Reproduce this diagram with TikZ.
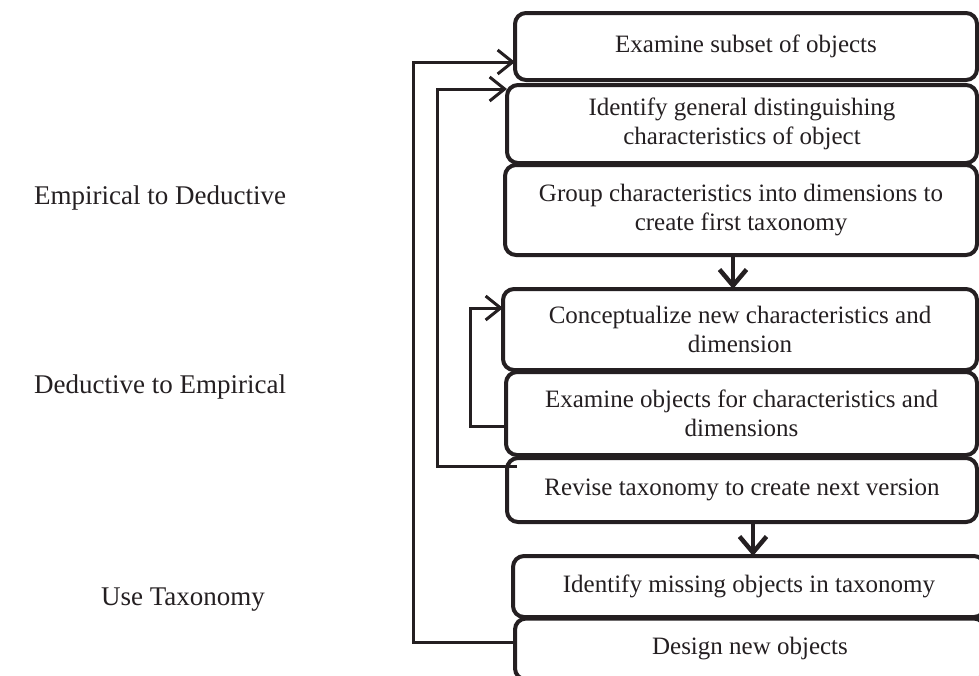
\documentclass[tikz,border=0pt]{standalone}
\usepackage{fontspec}
\setmainfont{Liberation Serif}
\usetikzlibrary{arrows.meta}
\definecolor{inkgray}{rgb}{0.14, 0.12, 0.13}

\begin{document}
\begin{tikzpicture}[x=1pt,y=-1pt]
  \tikzset{StepStyle/.style = {
    shape           = rectangle,
    rounded corners = 11pt,
    draw            = inkgray,
    fill            = white,
    line width      = 4pt,
    text            = inkgray,
    align           = center,
    inner sep       = 0pt,
    outer sep       = 0pt,
    font            = \fontsize{25}{29}\selectfont
    }
  }
  \tikzset{LabelStyle/.style = {
    text          = inkgray,
    inner sep     = 0pt,
    font          = \fontsize{27}{32}\selectfont
    }
  }
  \tikzset{EdgeStyle/.style = {
    draw          = inkgray,
    line width    = 3pt,
    -{Straight Barb[length=15pt,width=24pt]}
    }
  }
  \tikzset{FlowStyle/.style = {
    draw          = inkgray,
    line width    = 4.5pt,
    -{Straight Barb[length=16pt,width=27pt]}
    }
  }

  \useasboundingbox (0,0) rectangle (979,675);

	\node[StepStyle, minimum width=462pt, minimum height=67pt](S1) at (746, 46.5) {Examine subset of objects};
	\node[StepStyle, minimum width=470pt, minimum height=78pt](S2) at (742, 124) {Identify general distinguishing\\characteristics of object};
	\node[StepStyle, minimum width=472pt, minimum height=90pt](S3) at (741, 210) {Group characteristics into dimensions to\\create first taxonomy};
	\node[StepStyle, minimum width=474pt, minimum height=81pt](S4) at (740, 329.5) {Conceptualize new characteristics and\\dimension};
	\node[StepStyle, minimum width=471pt, minimum height=83pt](S5) at (741.5, 413.5) {Examine objects for characteristics and\\dimensions};
	\node[StepStyle, minimum width=470pt, minimum height=64pt](S6) at (742, 490) {Revise taxonomy to create next version};
	\node[StepStyle, minimum width=472pt, minimum height=61pt](S7) at (749, 586.5) {Identify missing objects in taxonomy};
	\node[StepStyle, minimum width=470pt, minimum height=61pt](S8) at (750, 649) {Design new objects};

	\node[LabelStyle](L1) at (160, 198) {Empirical to Deductive};
	\node[LabelStyle](L2) at (160, 387) {Deductive to Empirical};
	\node[LabelStyle](L3) at (183, 600) {Use Taxonomy};

	\coordinate (A1) at (733, 0);
	\coordinate (A2) at (753, 0);
	\coordinate (OT) at (413, 62);
	\coordinate (OB) at (413, 642);
	\coordinate (MT) at (437, 89);
	\coordinate (MB) at (437, 466);
	\coordinate (IT) at (470, 308);
	\coordinate (IB) at (470, 426);

	\draw[FlowStyle](S3.south -| A1) to (S4.north -| A1);
	\draw[FlowStyle](S6.south -| A2) to (S7.north -| A2);
	\draw[EdgeStyle](S8.west |- OB) -- (OB) -- (OT) -- (S1.west |- OT);
	\draw[EdgeStyle]([xshift=10pt]S6.west |- MB) -- (MB) -- (MT) -- (S2.west |- MT);
	\draw[EdgeStyle](S5.west |- IB) -- (IB) -- (IT) -- (S4.west |- IT);

\end{tikzpicture}
\end{document}
